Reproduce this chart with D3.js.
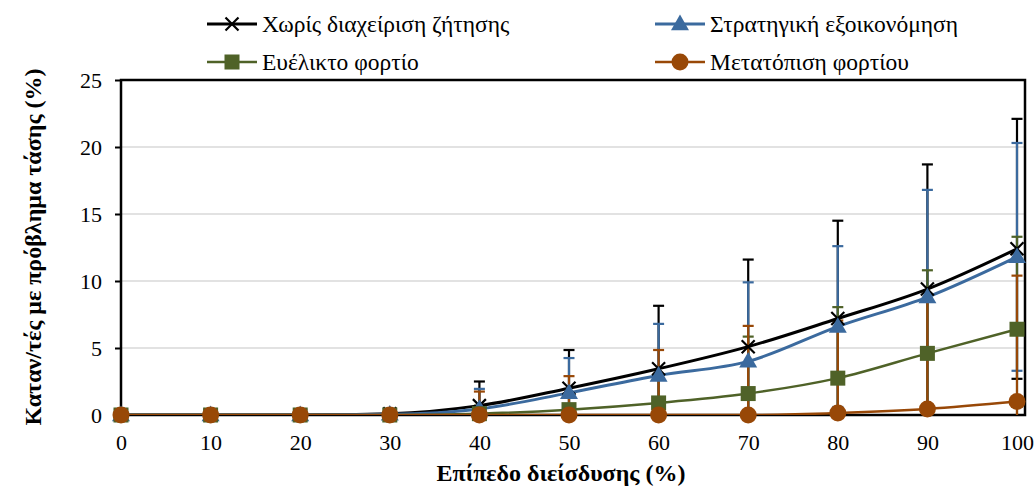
<!DOCTYPE html>
<html>
<head>
<meta charset="utf-8">
<script src="https://cdn.jsdelivr.net/npm/d3@7"></script>
<style>
  body { margin: 0; background: #fff; }
  text { font-family: "Liberation Serif", "DejaVu Serif", serif; }
</style>
</head>
<body>
<div id="canvas"></div>
<script>
const levels = [0, 10, 20, 30, 40, 50, 60, 70, 80, 90, 100];

const noDR = [0, 0, 0, 0.1, 0.7, 2.0, 3.45, 5.1, 7.2, 9.4, 12.4];
const noDRErr = [0, 0, 0, 0.1, 1.8, 2.85, 4.7, 6.5, 7.3, 9.3, 9.7];
const strat = [0, 0, 0, 0.05, 0.45, 1.65, 2.95, 4.0, 6.6, 8.8, 11.8];
const stratErr = [0, 0, 0, 0.05, 1.5, 2.6, 3.85, 5.9, 6.0, 8.0, 8.5];
const flex = [0, 0, 0, 0, 0.1, 0.4, 0.9, 1.6, 2.75, 4.6, 6.4];
const flexErr = [0, 0, 0, 0, 0.6, 1.2, 2.0, 4.25, 5.3, 6.2, 6.9];
const shift = [0, 0, 0, 0, 0, 0, 0, 0, 0.15, 0.45, 1.0];
const shiftErr = [0, 0, 0, 0, 1.75, 2.9, 4.85, 6.65, 6.9, 8.3, 9.4];

const yTicks = [0, 5, 10, 15, 20, 25];

const series = [
  { name: "Χωρίς διαχείριση ζήτησης", values: noDR, err: noDRErr, color: "#000000", marker: "x", lw: 3 },
  { name: "Στρατηγική εξοικονόμηση", values: strat, err: stratErr, color: "#3b6a9e", marker: "tri", lw: 3 },
  { name: "Ευέλικτο φορτίο", values: flex, err: flexErr, color: "#4f6228", marker: "sq", lw: 2.5 },
  { name: "Μετατόπιση φορτίου", values: shift, err: shiftErr, color: "#984807", marker: "circ", lw: 2.5 },
];

const width = 1035;
const height = 489;
const plot = { left: 121, right: 1025, top: 80, bottom: 415 };

const svg = d3.select("#canvas").append("svg")
  .attr("width", width)
  .attr("height", height);

const x = d3.scaleLinear().domain([0, 100]).range([plot.left, 1017]);
const y = d3.scaleLinear().domain([0, 25]).range([plot.bottom, plot.top]);

svg.append("defs").append("clipPath").attr("id", "clip")
  .append("rect")
  .attr("x", plot.left).attr("y", plot.top)
  .attr("width", plot.right - plot.left).attr("height", plot.bottom - plot.top);

// gridlines
svg.append("g")
  .selectAll("line")
  .data(yTicks.slice(1, -1))
  .enter().append("line")
  .attr("x1", plot.left).attr("x2", plot.right)
  .attr("y1", (d) => y(d)).attr("y2", (d) => y(d))
  .attr("stroke", "#d9d9d9").attr("stroke-width", 1.3);

// axes
const yAxis = svg.append("g")
  .attr("transform", `translate(${plot.left},0)`)
  .call(d3.axisLeft(y).tickValues(yTicks).tickSize(6).tickPadding(13));
yAxis.select(".domain").remove();
yAxis.selectAll("line").attr("stroke", "#000").attr("stroke-width", 2);
yAxis.selectAll("text").attr("font-size", 22).attr("fill", "#000")
  .style("font-family", "Liberation Serif");

const xAxis = svg.append("g")
  .attr("transform", `translate(0,${plot.bottom})`)
  .call(d3.axisBottom(x).tickValues(levels).tickSize(0).tickPadding(19));
xAxis.select(".domain").remove();
xAxis.selectAll("text").attr("font-size", 22).attr("fill", "#000")
  .style("font-family", "Liberation Serif");

// frame
svg.append("rect")
  .attr("x", plot.left).attr("y", plot.top)
  .attr("width", plot.right - plot.left).attr("height", plot.bottom - plot.top)
  .attr("fill", "none").attr("stroke", "#000").attr("stroke-width", 2.5);

const body = svg.append("g").attr("clip-path", "url(#clip)");

// error bars
series.forEach((s) => {
  const g = body.append("g");
  const pts = levels.map((l, i) => ({ l, v: s.values[i], e: s.err[i] })).filter((d) => d.e > 0.2);
  g.selectAll(".eb").data(pts).enter().append("line")
    .attr("x1", (d) => x(d.l)).attr("x2", (d) => x(d.l))
    .attr("y1", (d) => y(d.v - d.e)).attr("y2", (d) => y(d.v + d.e))
    .attr("stroke", s.color).attr("stroke-width", 2.2);
  [1, -1].forEach((sign) => {
    g.selectAll(null).data(pts).enter().append("line")
      .attr("x1", (d) => x(d.l) - 5.5).attr("x2", (d) => x(d.l) + 5.5)
      .attr("y1", (d) => y(d.v + sign * d.e)).attr("y2", (d) => y(d.v + sign * d.e))
      .attr("stroke", s.color).attr("stroke-width", 2.2);
  });
});

// lines
const line = d3.line()
  .x((d) => x(d[0]))
  .y((d) => y(d[1]))
  .curve(d3.curveMonotoneX);

series.forEach((s) => {
  body.append("path")
    .datum(levels.map((l, i) => [l, s.values[i]]))
    .attr("d", line)
    .attr("fill", "none")
    .attr("stroke", s.color)
    .attr("stroke-width", s.lw)
    .attr("stroke-linejoin", "round");
});

function drawMarker(g, type, color, cx, cy) {
  if (type === "x") {
    const r = 6.5;
    g.append("path")
      .attr("d", `M${cx - r},${cy - r}L${cx + r},${cy + r}M${cx - r},${cy + r}L${cx + r},${cy - r}`)
      .attr("stroke", color).attr("stroke-width", 2.2).attr("fill", "none");
  } else if (type === "tri") {
    g.append("path")
      .attr("d", d3.symbol().type(d3.symbolTriangle).size(140)())
      .attr("transform", `translate(${cx},${cy + 1})`)
      .attr("fill", color);
  } else if (type === "sq") {
    g.append("rect")
      .attr("x", cx - 7.5).attr("y", cy - 7.5)
      .attr("width", 15).attr("height", 15)
      .attr("fill", color);
  } else {
    g.append("circle")
      .attr("cx", cx).attr("cy", cy).attr("r", 8.5)
      .attr("fill", color);
  }
}

// markers (not clipped so zero points overlap the axis)
series.forEach((s) => {
  const g = svg.append("g");
  levels.forEach((l, i) => drawMarker(g, s.marker, s.color, x(l), y(s.values[i])));
});

// legend
const legendPos = [
  { x: 207, y: 24 },
  { x: 655, y: 24 },
  { x: 207, y: 62 },
  { x: 655, y: 62 },
];
series.forEach((s, i) => {
  const p = legendPos[i];
  const g = svg.append("g");
  g.append("line")
    .attr("x1", p.x).attr("x2", p.x + 50)
    .attr("y1", p.y).attr("y2", p.y)
    .attr("stroke", s.color).attr("stroke-width", s.lw);
  drawMarker(g, s.marker, s.color, p.x + 25, p.y);
  g.append("text")
    .attr("x", p.x + 55).attr("y", p.y)
    .attr("dy", "0.33em")
    .attr("font-size", 23.5)
    .text(s.name);
});

// axis titles
svg.append("text")
  .attr("x", 561)
  .attr("y", 481)
  .attr("text-anchor", "middle")
  .attr("font-size", 24)
  .attr("font-weight", "bold")
  .text("Επίπεδο διείσδυσης (%)");

svg.append("text")
  .attr("transform", `translate(41,247) rotate(-90)`)
  .attr("text-anchor", "middle")
  .attr("font-size", 24)
  .attr("font-weight", "bold")
  .text("Καταν/τές με πρόβλημα τάσης (%)");
</script>
</body>
</html>
